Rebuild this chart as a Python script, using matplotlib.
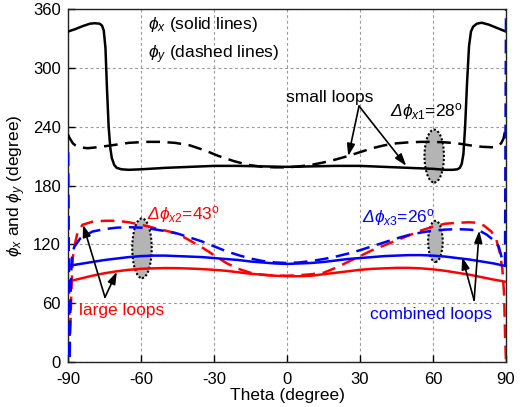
import matplotlib
matplotlib.use("Agg")
import matplotlib.pyplot as plt
from matplotlib.patches import Ellipse

plt.rcParams['font.family'] = ['Liberation Sans', 'DejaVu Sans']
plt.rcParams['mathtext.fontset'] = 'custom'
plt.rcParams['mathtext.rm'] = 'Liberation Sans'
plt.rcParams['mathtext.it'] = 'Liberation Sans:italic'
plt.rcParams['mathtext.sf'] = 'Liberation Sans:italic'
plt.rcParams['mathtext.bf'] = 'Liberation Sans:bold'
plt.rcParams['mathtext.fallback'] = 'cm'
plt.rcParams['axes.unicode_minus'] = False

# ---------------- data ----------------
# small loops (black)
theta_k_x = [-90, -87, -84, -81, -79, -77, -76, -75.3, -74.6, -74, -73.3, -72.6, -72, -71, -70, -68,
             -65, -60, -50, -40, -30, -20, -10, 0, 10, 20, 30, 40, 50, 60, 65, 68, 70, 71, 71.8,
             72.5, 73.2, 74, 74.8, 75.6, 76.5, 78, 80, 83, 86, 90]
phix_k = [337, 339.5, 342.5, 345, 345.5, 345, 343, 338, 320, 280, 240, 218, 208, 201, 198, 196.5,
          196, 196.5, 198, 199, 200, 200, 199.5, 199, 199.5, 200, 200, 199, 198, 197, 196, 196, 196.5,
          198, 202, 212, 240, 285, 322, 337, 342, 345, 346, 344, 341, 337]
theta_k_y = [-90, -89.5, -88, -87, -85, -82, -78, -72, -65, -58, -52, -46, -40, -34, -28, -22, -16, -10,
             -5, 0, 5, 10, 15, 20, 25, 30, 35, 40, 45, 50, 55, 60, 65, 70, 75, 80, 84, 86, 88, 89, 89.5, 90]
phiy_k = [232, 229, 223, 221, 219, 218, 219, 221, 223.5, 224.5, 224.5, 223.5, 221, 216, 210, 205, 201, 199,
          198.5, 198.5, 199.5, 201, 203.5, 206.5, 210, 214, 218, 221, 223, 224, 224.5, 224.5, 224, 223, 221,
          219.5, 219, 219.5, 223, 228, 234, 240]

# large loops (red)
theta_r_x = [-90, -85, -80, -75, -70, -65, -60, -55, -50, -45, -40, -35, -30, -25, -20, -15, -10, -5, 0,
             5, 10, 15, 20, 25, 30, 35, 40, 45, 50, 55, 60, 65, 70, 75, 80, 85, 89.5]
phix_r = [82, 85, 88, 90.5, 92.5, 94, 95, 95.5, 95.8, 95.7, 95.3, 94.8, 94, 93, 91.5, 90, 89, 88, 87.5,
          87.5, 88, 89.5, 91, 92.5, 94, 95, 95.5, 96, 96, 95.5, 94.5, 93, 91, 89, 86.5, 84, 82]
theta_r_y = [-90, -89.7, -89.4, -89, -88.5, -88, -87, -86, -84, -80, -75, -70, -65, -60, -55, -50, -45,
             -40, -35, -30, -25, -20, -15, -10, -5, 0, 5, 10, 15, 20, 25, 30, 35, 40, 45, 50, 55, 60,
             65, 70, 75, 78, 81, 84, 86, 87.5, 88.5, 89.2, 89.6, 90]
phiy_r = [214, 120, 25, 40, 80, 107, 122, 133, 140, 143, 144, 144, 142.5, 140, 137, 134, 131, 124, 117,
          109, 101, 95, 91, 89, 88, 88, 88.5, 89.5, 91, 96, 102, 108, 114, 119, 124, 129, 134, 138,
          141, 142, 142.5, 142, 139, 133, 125, 111, 95, 70, 30, 0]

# combined loops (blue)
theta_b_x = [-90, -85, -80, -75, -70, -65, -60, -55, -50, -45, -40, -35, -30, -25, -20, -15, -10, -5, 0,
             5, 10, 15, 20, 25, 30, 35, 40, 45, 50, 55, 60, 65, 70, 75, 80, 85, 89.5]
phix_b = [98, 100, 102, 104, 105.5, 107, 108, 108.5, 108.5, 108, 107.5, 107, 106, 105, 104, 102.5, 101.5,
          100.5, 100, 100.5, 101, 102, 103.5, 105, 106, 107, 108, 108.5, 109, 109, 108.5, 107.5, 106,
          104.5, 102.5, 100.5, 98]
theta_b_y = [-90, -89.6, -89.3, -89, -88.5, -87.5, -85, -80, -75, -70, -65, -60, -55, -50, -45, -40, -35,
             -30, -25, -20, -15, -10, -5, 0, 5, 10, 15, 20, 25, 30, 35, 40, 45, 50, 55, 60, 65, 70, 75,
             79, 82, 85, 87, 88.5, 89.6, 90]
phiy_b = [214, 60, 2, 60, 105, 117, 126, 133, 135.5, 137, 137.5, 137, 135.5, 133.5, 131, 127, 123, 118,
          113, 109, 105.5, 103, 101.5, 101, 101.5, 103, 105, 107.5, 110.5, 114, 118, 122, 126, 129.5,
          132, 134, 135, 135.5, 135, 134, 130, 124, 118, 104, 99, 360]

# highlight ellipses: (theta centre, value centre, width, height)
ellipses = [(60.5, 210, 8, 54), (-59.6, 116, 8, 61), (61, 123, 6, 42)]

x_ticks = [-90, -60, -30, 0, 30, 60, 90]
y_ticks = [0, 60, 120, 180, 240, 300, 360]

# ---------------- plot ----------------
fig = plt.figure(figsize=(5.24, 4.07), dpi=100)
ax = fig.add_axes([68/524, 45/407, 438/524, 353/407])

lw = 1.8
dash = (0, (5.5, 3))
ax.plot(theta_k_x, phix_k, color='black', lw=lw, zorder=3)
ax.plot(theta_k_y, phiy_k, color='black', lw=lw, ls=dash, zorder=3)
ax.plot(theta_r_x, phix_r, color='#ff0000', lw=lw, zorder=4)
ax.plot(theta_r_y, phiy_r, color='#ff0000', lw=lw, ls=dash, zorder=4)
ax.plot(theta_b_x, phix_b, color='#0000ff', lw=lw, zorder=5)
ax.plot(theta_b_y, phiy_b, color='#0000ff', lw=lw, ls=dash, zorder=5)

for (cx, cy, w, h) in ellipses:
    ax.add_patch(Ellipse((cx, cy), w, h, facecolor='#b4b4b4', edgecolor='black',
                         lw=1.5, ls=(0, (1, 1)), zorder=2.5))

ax.set_xlim(-90, 90)
ax.set_ylim(0, 360)
ax.set_xticks(x_ticks)
ax.set_yticks(y_ticks)
ax.tick_params(direction='in', length=5, width=1, labelsize=12)
ax.tick_params(axis='x', pad=7)
ax.tick_params(axis='y', pad=5)
ax.grid(True, color='#999999', ls=(0, (2.5, 2.5)), lw=0.8)
ax.set_axisbelow(True)
for s in ax.spines.values():
    s.set_linewidth(1.0)
    s.set_color('#222222')

ax.set_xlabel('Theta (degree)', fontsize=12.5, labelpad=1)
ax.set_ylabel(r'$\phi_x$ and $\phi_y$ (degree)', fontsize=12.5, labelpad=4)

fs = 12.5
ax.text(-57, 344, r'$\phi_x$ (solid lines)', fontsize=fs, va='center', ha='left')
ax.text(-57, 313, r'$\phi_y$ (dashed lines)', fontsize=fs, va='center', ha='left')
ax.text(17.7, 270, 'small loops', fontsize=fs, va='center', ha='center')
ax.text(42.3, 255, r'$\mathsf{Δ}\phi_{x1}$=28$^{\rm o}$', fontsize=fs, va='center', ha='left')
ax.text(-57.5, 150, r'$\mathsf{Δ}\phi_{x2}$=43$^{\rm o}$', fontsize=fs, va='center', ha='left', color='#ff0000')
ax.text(30.8, 147, r'$\mathsf{Δ}\phi_{x3}$=26$^{\rm o}$', fontsize=fs, va='center', ha='left', color='#0000ff')
ax.text(-67.8, 53, 'large loops', fontsize=fs, va='center', ha='center', color='#ff0000')
ax.text(59, 48, 'combined loops', fontsize=fs, va='center', ha='center', color='#0000ff')

arrow_kw = dict(arrowstyle='-|>,head_length=0.6,head_width=0.2', color='black', lw=1.2,
                mutation_scale=12, shrinkA=0, shrinkB=0)
for start, ends in [((29.6, 261), [(25.2, 210), (49, 200)]),
                    ((-74.8, 66), [(-83.8, 140), (-69.9, 92)]),
                    ((76.9, 63), [(72, 107), (79, 134)])]:
    for e in ends:
        ax.annotate('', xy=e, xytext=start, arrowprops=arrow_kw, zorder=6)

fig.savefig('out.png', dpi=100)
